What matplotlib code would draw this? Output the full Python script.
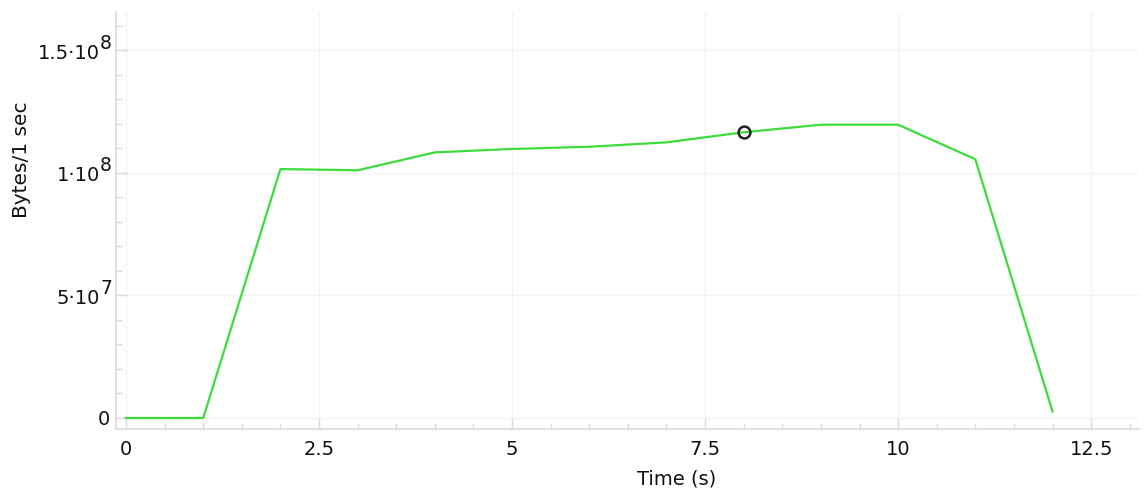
import matplotlib
matplotlib.use("Agg")
import matplotlib.pyplot as plt
from matplotlib.ticker import MultipleLocator, FuncFormatter, NullFormatter
from matplotlib.transforms import offset_copy

# Throughput per one-second interval
time_s = [0, 1, 2, 3, 4, 5, 6, 7, 8, 9, 10, 11, 12]
bytes_per_sec = [0, 0, 1.016e8, 1.011e8, 1.084e8, 1.098e8, 1.107e8,
                 1.125e8, 1.166e8, 1.197e8, 1.197e8, 1.056e8, 2.6e6]
highlight_index = 8

plt.rcParams["font.family"] = ["DejaVu Sans"]

fig = plt.figure(figsize=(11.44, 4.92), dpi=100)
ax = fig.add_axes([116 / 1144, 1 - 429 / 492, 1023 / 1144, 417 / 492])

line_color = "#3ddc3d"
text_color = "#111111"
ax.plot(time_s, bytes_per_sec, color=line_color, lw=1.6, zorder=3)
ax.plot(time_s[highlight_index], bytes_per_sec[highlight_index], "o",
        ms=8.5, mfc="none", mec="#222222", mew=1.8, zorder=4)

ax.set_xlim(-0.13, 13.12)
ax.set_ylim(-4.5e6, 1.657e8)

ax.xaxis.set_major_locator(MultipleLocator(2.5))
ax.xaxis.set_minor_locator(MultipleLocator(0.5))
ax.yaxis.set_major_locator(MultipleLocator(5e7))
ax.yaxis.set_minor_locator(MultipleLocator(1e7))
ax.xaxis.set_major_formatter(FuncFormatter(lambda v, pos: f"{v:g}"))
ax.yaxis.set_major_formatter(NullFormatter())

grey = "#dadada"
for side in ("top", "right"):
    ax.spines[side].set_visible(False)
for side in ("left", "bottom"):
    ax.spines[side].set_color(grey)
    ax.spines[side].set_linewidth(1.2)

ax.tick_params(which="major", direction="in", length=8, width=1, color=grey,
               labelsize=14, labelcolor=text_color)
ax.tick_params(which="minor", direction="in", length=4.5, width=1, color=grey)
ax.tick_params(axis="x", which="major", pad=8)

ax.grid(True, which="major", color="#f3f3f3", lw=1, zorder=0)
ax.set_axisbelow(True)


def split_sci(v):
    """Return mantissa text and exponent for a positive value."""
    exp = 0
    m = v
    while abs(m) >= 10:
        m /= 10
        exp += 1
    return f"{m:g}", exp


# y tick labels in "m·10^e" form with a full-height raised exponent
ytrans = ax.get_yaxis_transform()
lo, hi = ax.get_ylim()
for v in ax.get_yticks():
    if v < lo or v > hi:
        continue
    if v == 0:
        ax.text(0, v, "0", fontsize=14, color=text_color, ha="right", va="center",
                transform=offset_copy(ytrans, fig, x=-6, y=-2, units="dots"))
        continue
    mant, exp = split_sci(v)
    ax.text(0, v, f"{mant}·10", fontsize=14, color=text_color,
            ha="right", va="center",
            transform=offset_copy(ytrans, fig, x=-16, y=-3, units="dots"))
    ax.text(0, v, f"{exp}", fontsize=13.5, color=text_color,
            ha="left", va="center",
            transform=offset_copy(ytrans, fig, x=-16, y=7, units="dots"))

ax.set_xlabel("Time (s)", fontsize=14, color=text_color)
ax.set_ylabel("Bytes/1 sec", fontsize=14.5, color=text_color)
ax.xaxis.set_label_coords(0.548, -0.098)
ax.yaxis.set_label_coords(-0.083, 0.645)

fig.savefig("out.png", dpi=100)
